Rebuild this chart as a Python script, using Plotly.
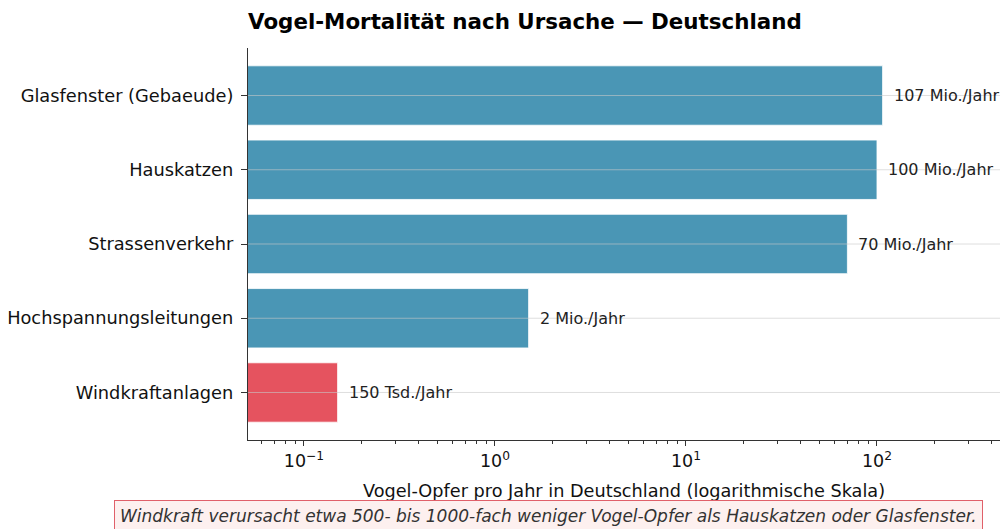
import math
import plotly.graph_objects as go

# Data (million birds per year)
categories = ["Glasfenster (Gebaeude)", "Hauskatzen", "Strassenverkehr",
              "Hochspannungsleitungen", "Windkraftanlagen"]
values_mio = [107, 100, 70, 1.5, 0.15]
labels = ["107 Mio./Jahr", "100 Mio./Jahr", "70 Mio./Jahr", "2 Mio./Jahr", "150 Tsd./Jahr"]
colors = ["#4a96b5", "#4a96b5", "#4a96b5", "#4a96b5", "#e5535f"]

major_ticks = [0.1, 1, 10, 100]
major_text = ["10<sup>−1</sup>", "10<sup>0</sup>", "10<sup>1</sup>", "10<sup>2</sup>"]
minor_ticks = [m * d for d in [0.01, 0.1, 1, 10, 100] for m in range(2, 10)]

FONT = "DejaVu Sans"

fig = go.Figure()
fig.add_trace(go.Bar(
    y=categories, x=values_mio, orientation="h",
    marker=dict(color=colors, line=dict(color="rgba(255,255,255,0.8)", width=1)),
    hoverinfo="skip",
))

for cat, v, lab in zip(categories, values_mio, labels):
    fig.add_annotation(x=math.log10(v), y=cat, xref="x", yref="y", text=lab, showarrow=False,
                       xanchor="left", yanchor="middle", xshift=9,
                       font=dict(family=FONT, size=16, color="#222"))
    fig.add_shape(type="line", xref="paper", yref="y", x0=0, x1=1, y0=cat, y1=cat,
                  layer="above", line=dict(color="rgba(200,200,200,0.6)", width=1))

fig.add_annotation(
    xref="paper", yref="paper", x=0.399, y=-0.195, xanchor="center", yanchor="middle",
    text="<i>Windkraft verursacht etwa 500- bis 1000-fach weniger Vogel-Opfer als Hauskatzen oder Glasfenster.</i>",
    showarrow=False, font=dict(family=FONT, size=17, color="#333"),
    bgcolor="#fdf0ef", bordercolor="#e0606a", borderwidth=1, borderpad=5,
)

fig.update_layout(
    width=1002, height=529,
    margin=dict(l=248, r=2, t=48, b=89),
    paper_bgcolor="white", plot_bgcolor="white",
    bargap=0.2, showlegend=False,
    font=dict(family=FONT, size=17, color="#111"),
    title=dict(text="<b>Vogel-Mortalität nach Ursache — Deutschland</b>",
               x=248/1002, xanchor="left", y=1 - 22/529, yanchor="middle",
               font=dict(family=FONT, size=21.4, color="#000")),
    xaxis=dict(
        type="log", range=[-1.293, 2.644], automargin=False,
        tickmode="array", tickvals=major_ticks, ticktext=major_text,
        ticks="outside", ticklen=5, tickcolor="#333", tickwidth=1,
        minor=dict(tickmode="array", tickvals=minor_ticks, ticks="outside",
                   ticklen=3, tickcolor="#333", tickwidth=0.8, showgrid=False),
        showgrid=False, zeroline=False,
        showline=True, linecolor="#333", linewidth=1.2,
        tickfont=dict(family=FONT, size=17.5, color="#111"),
        title=dict(text="Vogel-Opfer pro Jahr in Deutschland (logarithmische Skala)",
                   font=dict(family=FONT, size=17.7, color="#111"), standoff=14),
    ),
    yaxis=dict(
        categoryorder="array", categoryarray=categories[::-1],
        range=[-0.64, 4.64], automargin=False,
        ticks="outside", ticklen=6, tickcolor="#333",
        ticklabelstandoff=4,
        showgrid=False, zeroline=False,
        showline=True, linecolor="#333", linewidth=1.2,
        tickfont=dict(family=FONT, size=17.8, color="#111"),
    ),
)

fig.write_html("out.html", config={"displayModeBar": False},
               post_script="document.body.style.margin='0';")
